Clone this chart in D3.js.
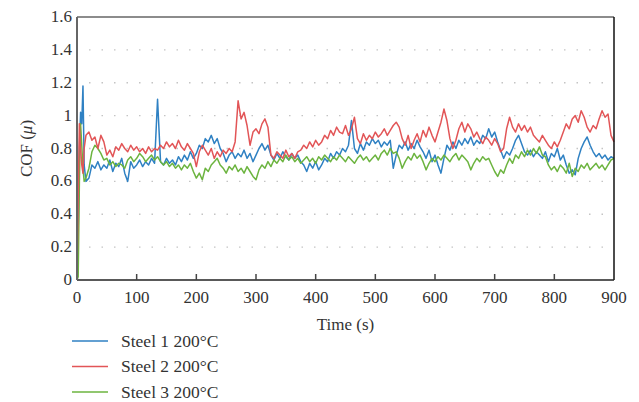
<!DOCTYPE html>
<html><head><meta charset="utf-8">
<script src="https://cdn.jsdelivr.net/npm/d3@7"></script>
<style>body{margin:0;background:#fff}svg text{font-family:"Liberation Serif","Times New Roman",serif;fill:#333}</style>
</head><body><svg id="c" width="639" height="402"></svg>
<script>
const seriesNames = ["Steel 1 200°C", "Steel 2 200°C", "Steel 3 200°C"];
const colors = ["#2f81c3", "#e25557", "#6cb43f"];
const xTicks = [0,100,200,300,400,500,600,700,800,900];
const yTicks = [0,0.2,0.4,0.6,0.8,1,1.2,1.4,1.6];
const time = [0,2,4,6,8,10,12,15].concat(d3.range(20, 901, 5));

const steel1 = [0.02,0.3,0.8,1.02,0.95,1.18,0.7,0.6,
0.62,0.7,0.68,0.72,0.67,0.7,0.68,0.73,0.66,0.71,0.69,0.74,0.65,0.6,0.72,0.68,0.7,0.73,0.69,0.72,
0.7,0.74,0.71,1.1,0.72,0.7,0.74,0.71,0.73,0.7,0.75,0.72,0.76,0.73,0.78,0.74,0.77,0.82,0.8,0.86,
0.84,0.88,0.83,0.86,0.8,0.77,0.72,0.76,0.78,0.74,0.77,0.75,0.79,0.74,0.77,0.72,0.76,0.8,0.83,0.79,
0.82,0.76,0.73,0.77,0.74,0.78,0.75,0.73,0.77,0.74,0.76,0.72,0.7,0.66,0.71,0.68,0.72,0.67,0.7,0.74,
0.72,0.77,0.74,0.78,0.76,0.8,0.78,0.82,0.97,0.8,0.77,0.83,0.79,0.84,0.82,0.86,0.83,0.85,0.81,0.84,
0.82,0.85,0.68,0.76,0.82,0.8,0.84,0.79,0.83,0.8,0.85,0.81,0.78,0.74,0.79,0.72,0.76,0.7,0.65,0.74,
0.82,0.79,0.84,0.8,0.85,0.82,0.86,0.83,0.87,0.82,0.85,0.83,0.88,0.86,0.92,0.87,0.9,0.84,0.79,0.74,
0.78,0.76,0.8,0.85,0.88,0.83,0.78,0.76,0.79,0.75,0.78,0.76,0.74,0.78,0.72,0.77,0.75,0.8,0.73,0.76,
0.7,0.65,0.67,0.64,0.74,0.8,0.84,0.87,0.82,0.78,0.75,0.77,0.74,0.76,0.73,0.75,0.74];

const steel2 = [0.05,0.5,0.95,0.8,0.7,0.65,0.8,0.88,
0.9,0.85,0.87,0.8,0.88,0.84,0.76,0.79,0.75,0.81,0.79,0.83,0.8,0.78,0.82,0.79,0.81,0.78,0.8,0.77,
0.81,0.78,0.8,0.79,0.82,0.8,0.84,0.81,0.83,0.8,0.85,0.81,0.79,0.83,0.8,0.77,0.69,0.78,0.82,0.79,
0.76,0.8,0.74,0.78,0.75,0.79,0.77,0.8,0.78,0.84,1.09,0.98,1.02,0.94,0.82,0.9,0.92,0.89,0.95,0.98,
0.93,0.76,0.74,0.78,0.76,0.74,0.79,0.75,0.77,0.74,0.78,0.79,0.82,0.8,0.84,0.81,0.85,0.82,0.84,0.88,
0.86,0.91,0.88,0.93,0.9,0.89,0.94,0.88,0.92,0.99,0.86,0.83,0.89,0.85,0.88,0.86,0.9,0.87,0.89,0.92,
0.88,0.91,0.94,0.96,0.93,0.86,0.82,0.88,0.8,0.85,0.89,0.84,0.91,0.87,0.93,0.88,0.84,0.9,0.96,1.04,
0.97,0.86,0.8,0.85,0.92,0.96,0.9,0.95,0.92,0.87,0.9,0.86,0.83,0.87,0.85,0.82,0.86,0.83,0.78,0.8,
0.92,0.99,0.93,0.9,0.95,0.91,0.94,0.9,0.93,0.88,0.86,0.84,0.88,0.85,0.82,0.8,0.84,0.81,0.85,0.9,
0.95,0.92,0.98,1.0,0.96,1.03,0.99,0.93,0.9,0.94,0.92,0.98,1.03,0.99,1.01,0.88,0.84];

const steel3 = [0.0,0.02,0.6,0.95,0.82,0.68,0.6,0.62,
0.68,0.78,0.82,0.8,0.77,0.73,0.74,0.7,0.72,0.69,0.71,0.7,0.68,0.73,0.75,0.72,0.74,0.77,0.75,0.72,
0.74,0.76,0.73,0.75,0.72,0.7,0.72,0.69,0.71,0.68,0.7,0.67,0.7,0.68,0.71,0.66,0.62,0.65,0.61,0.68,
0.66,0.7,0.72,0.74,0.7,0.68,0.65,0.69,0.67,0.7,0.66,0.68,0.65,0.69,0.66,0.63,0.61,0.67,0.7,0.68,
0.72,0.69,0.73,0.71,0.74,0.72,0.76,0.73,0.75,0.72,0.74,0.71,0.73,0.75,0.72,0.74,0.71,0.75,0.73,0.76,
0.74,0.72,0.75,0.73,0.76,0.74,0.72,0.75,0.73,0.71,0.74,0.76,0.73,0.75,0.72,0.74,0.76,0.73,0.77,0.79,
0.76,0.8,0.77,0.78,0.74,0.68,0.72,0.75,0.73,0.77,0.74,0.76,0.72,0.67,0.71,0.74,0.72,0.75,0.73,0.76,
0.74,0.72,0.75,0.77,0.73,0.76,0.74,0.72,0.67,0.71,0.74,0.72,0.75,0.73,0.74,0.7,0.66,0.63,0.67,0.65,
0.7,0.74,0.71,0.76,0.74,0.78,0.75,0.79,0.76,0.8,0.77,0.81,0.76,0.75,0.7,0.67,0.69,0.66,0.7,0.68,
0.65,0.71,0.63,0.68,0.66,0.7,0.68,0.71,0.67,0.69,0.71,0.68,0.7,0.67,0.7,0.73,0.74];

const allSeries = [steel1, steel2, steel3];

const svg = d3.select("#c");
const L = 77, T = 17, W = 537, H = 263;
const x = d3.scaleLinear().domain([0, 900]).range([L, L + W]);
const y = d3.scaleLinear().domain([0, 1.6]).range([T + H, T]);

svg.append("g").selectAll("line").data(yTicks.filter(v => v > 0 && v < 1.6)).join("line")
  .attr("x1", L + 12).attr("x2", L + W).attr("y1", d => y(d)).attr("y2", d => y(d))
  .attr("stroke", "#c4c4c4").attr("stroke-width", 1.3).attr("stroke-dasharray", "1.5,11");

const line = d3.line().x((d, i) => x(time[i])).y(d => y(d));
const order = [0, 2, 1];
order.forEach(k => {
  svg.append("path").datum(allSeries[k].slice(0, time.length))
    .attr("d", line).attr("fill", "none").attr("stroke", colors[k])
    .attr("stroke-width", 1.5).attr("stroke-linejoin", "round");
});

svg.append("line").attr("x1", L).attr("x2", L + W).attr("y1", T).attr("y2", T).attr("stroke", "#666").attr("stroke-width", 1.5);
svg.append("line").attr("x1", L + W).attr("x2", L + W).attr("y1", T).attr("y2", T + H).attr("stroke", "#111").attr("stroke-width", 1.5);
svg.append("line").attr("x1", L).attr("x2", L + W).attr("y1", T + H).attr("y2", T + H).attr("stroke", "#222").attr("stroke-width", 1.5);
svg.append("line").attr("x1", L).attr("x2", L).attr("y1", T).attr("y2", T + H).attr("stroke", "#666").attr("stroke-width", 2);

svg.append("g").selectAll("line").data(xTicks.filter(v => v > 0 && v < 900)).join("line")
  .attr("x1", d => x(d)).attr("x2", d => x(d)).attr("y1", T + H).attr("y2", T + H - 6)
  .attr("stroke", "#444").attr("stroke-width", 1.5);

svg.append("g").selectAll("text").data(xTicks).join("text")
  .attr("x", d => x(d)).attr("y", T + H + 22.5).attr("text-anchor", "middle")
  .attr("font-size", 17).text(d => d);

svg.append("g").selectAll("text").data(yTicks).join("text")
  .attr("x", L - 5).attr("y", d => y(d) + 5).attr("text-anchor", "end")
  .attr("font-size", 17).text(d => d);

svg.append("text").attr("x", x(450)).attr("y", T + H + 50).attr("text-anchor", "middle")
  .attr("font-size", 17).text("Time (s)");

svg.append("text").attr("transform", `translate(32,${y(0.8)}) rotate(-90)`).attr("text-anchor", "middle")
  .attr("font-size", 17).html('COF (<tspan font-style="italic">μ</tspan>)');

const lg = svg.append("g");
seriesNames.forEach((n, i) => {
  const yy = 341 + i * 25.5;
  lg.append("line").attr("x1", 72).attr("x2", 108).attr("y1", yy).attr("y2", yy)
    .attr("stroke", colors[i]).attr("stroke-width", 1.5);
  lg.append("text").attr("x", 121).attr("y", yy + 5.5).attr("font-size", 17.5).text(n);
});
</script></body></html>
